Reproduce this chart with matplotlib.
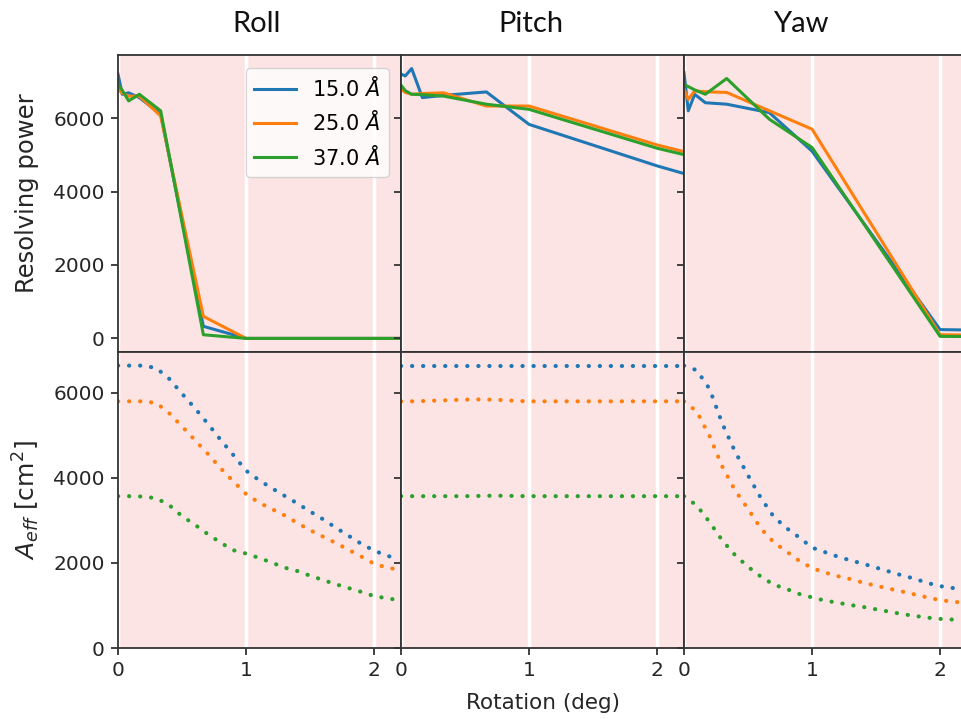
import matplotlib
matplotlib.use('Agg')
import matplotlib.pyplot as plt

# ---------------- data ----------------
titles = ["Roll", "Pitch", "Yaw"]
labels = [r"15.0 $Å$", r"25.0 $Å$", r"37.0 $Å$"]
colors = ["#1f77b4", "#ff7f0e", "#2ca02c"]

# resolving power (top row)
x_rp = [0.0, 1/30, 1/12, 1/6, 1/3, 2/3, 1.0, 2.0, 3.0]
rp_roll_15 = [7200, 6650, 6690, 6560, 6105, 330, 0, 0, 0]
rp_roll_25 = [6790, 6680, 6600, 6600, 6060, 600, 0, 0, 0]
rp_roll_37 = [6920, 6760, 6470, 6650, 6200, 100, 0, 0, 0]

rp_pitch_15 = [7200, 7150, 7350, 6560, 6620, 6714, 5830, 4700, 3700]
rp_pitch_25 = [6790, 6700, 6650, 6670, 6690, 6330, 6330, 5270, 4400]
rp_pitch_37 = [6900, 6750, 6650, 6640, 6600, 6380, 6240, 5180, 4350]

rp_yaw_15 = [7240, 6200, 6650, 6420, 6380, 6150, 5100, 240, 190]
rp_yaw_25 = [6790, 6510, 6740, 6720, 6700, 6200, 5700, 100, 70]
rp_yaw_37 = [6920, 6860, 6770, 6650, 7080, 5970, 5200, 55, 40]

# effective area (bottom row)
x_aeff = [0.0, 0.1, 0.2, 0.3, 0.4, 0.5, 0.6, 0.7, 0.8, 0.9, 1.0, 1.1,
          1.2, 1.3, 1.4, 1.5, 1.6, 1.7, 1.8, 1.9, 2.0, 2.1, 2.2]
aeff_roll_15 = [6640, 6640, 6640, 6580, 6330, 5980, 5640, 5280, 4900, 4540, 4170, 3950,
                3760, 3580, 3400, 3210, 3030, 2830, 2640, 2450, 2290, 2170, 2090]
aeff_roll_25 = [5800, 5800, 5800, 5760, 5520, 5210, 4890, 4570, 4230, 3920, 3620, 3420,
                3270, 3120, 2940, 2770, 2620, 2470, 2310, 2150, 1980, 1890, 1840]
aeff_roll_37 = [3570, 3570, 3560, 3520, 3360, 3100, 2900, 2680, 2480, 2300, 2220, 2120,
                2010, 1890, 1810, 1700, 1600, 1500, 1410, 1320, 1220, 1170, 1120]

aeff_pitch_15 = [6640, 6640, 6640, 6640, 6640, 6640, 6640, 6640, 6640, 6640, 6640, 6640,
                 6640, 6640, 6640, 6640, 6640, 6640, 6640, 6640, 6640, 6640, 6640]
aeff_pitch_25 = [5800, 5800, 5810, 5820, 5830, 5840, 5845, 5840, 5830, 5810, 5800, 5800,
                 5800, 5800, 5800, 5800, 5800, 5800, 5800, 5800, 5800, 5800, 5800]
aeff_pitch_37 = [3570, 3570, 3570, 3570, 3570, 3570, 3575, 3580, 3580, 3575, 3570, 3570,
                 3570, 3570, 3570, 3570, 3570, 3570, 3570, 3570, 3570, 3570, 3570]

aeff_yaw_15 = [6640, 6530, 6090, 5270, 4610, 4060, 3530, 3090, 2820, 2600, 2360, 2255,
               2150, 2060, 1980, 1890, 1800, 1710, 1630, 1530, 1455, 1410, 1370]
aeff_yaw_25 = [5800, 5560, 4980, 4260, 3700, 3270, 2810, 2490, 2270, 2050, 1880, 1775,
               1690, 1620, 1535, 1465, 1395, 1330, 1260, 1190, 1125, 1090, 1060]
aeff_yaw_37 = [3570, 3350, 2960, 2525, 2180, 1910, 1680, 1490, 1390, 1270, 1190, 1115,
               1065, 1010, 965, 910, 855, 800, 755, 715, 685, 668, 655]

rp_sets = [[rp_roll_15, rp_roll_25, rp_roll_37],
           [rp_pitch_15, rp_pitch_25, rp_pitch_37],
           [rp_yaw_15, rp_yaw_25, rp_yaw_37]]
aeff_sets = [[aeff_roll_15, aeff_roll_25, aeff_roll_37],
             [aeff_pitch_15, aeff_pitch_25, aeff_pitch_37],
             [aeff_yaw_15, aeff_yaw_25, aeff_yaw_37]]

xticks = [0, 1, 2]
yticks = [0, 2000, 4000, 6000]

# ---------------- figure ----------------
W, H = 961, 719
fig = plt.figure(figsize=(W / 100, H / 100), dpi=100)
fig.patch.set_facecolor("white")

left0, pw = 118, 283
top, mid, bot = 55, 352, 648
face = "#fde4e4"
spine_c = "#333333"

axes = [[None] * 3 for _ in range(2)]
for r in range(2):
    for c in range(3):
        if r == 0:
            rect = [(left0 + c * pw) / W, (H - mid) / H, pw / W, (mid - top) / H]
        else:
            rect = [(left0 + c * pw) / W, (H - bot) / H, pw / W, (bot - mid) / H]
        kw = {}
        if r > 0 or c > 0:
            kw["sharex"] = axes[0][0]
        if c > 0:
            kw["sharey"] = axes[r][0]
        ax = fig.add_axes(rect, **kw)
        ax.set_facecolor(face)
        ax.set_axisbelow(True)
        ax.grid(axis="x", color="white", lw=2.5)
        ax.grid(axis="y", visible=False)
        for s in ax.spines.values():
            s.set_color(spine_c)
            s.set_linewidth(1.3)
        ax.tick_params(axis="both", direction="out", length=5, width=1.3,
                       color=spine_c, labelsize=14.5, labelcolor="#262626", pad=4.5)
        axes[r][c] = ax

for c in range(3):
    ax = axes[0][c]
    for vals, lab, col in zip(rp_sets[c], labels, colors):
        ax.plot(x_rp, vals, color=col, lw=2.2, label=lab)
    ax.tick_params(axis="x", length=0, labelbottom=False)
    ax2 = axes[1][c]
    for vals, col in zip(aeff_sets[c], colors):
        ax2.plot(x_aeff, vals, color=col, lw=3, linestyle=(0, (0.05, 2.6)),
                 dash_capstyle="round")
    if c > 0:
        ax.tick_params(axis="y", labelleft=False)
        ax2.tick_params(axis="y", labelleft=False)

axes[0][0].set_xlim(0, 2.21)
axes[0][0].set_xticks(xticks)
axes[0][0].set_ylim(-370, 7720)
axes[0][0].set_yticks(yticks)
axes[1][0].set_ylim(0, 6960)
axes[1][0].set_yticks(yticks)

leg = axes[0][0].legend(loc="upper right", fontsize=15, borderaxespad=0.6,
                        framealpha=0.8, handlelength=2.0)

# titles
title_x = [257, 531, 801]
for t, xp in zip(titles, title_x):
    fig.text(xp / W, 1 - 32 / H, t, ha="center", va="baseline",
             fontsize=21, family=["Lato", "DejaVu Sans"], color="#111111")

# axis labels
fig.text(27 / W, 1 - 193 / H, "Resolving power", rotation=90, ha="center",
         va="center", fontsize=17.5, color="#262626")
fig.text(26 / W, 1 - 500 / H, r"$A_{eff}$ [cm$^2$]", rotation=90, ha="center",
         va="center", fontsize=18, color="#262626")
fig.text(542.5 / W, 1 - 703 / H, "Rotation (deg)", ha="center", va="center",
         fontsize=15.5, color="#262626")

fig.savefig("out.png", dpi=100)
